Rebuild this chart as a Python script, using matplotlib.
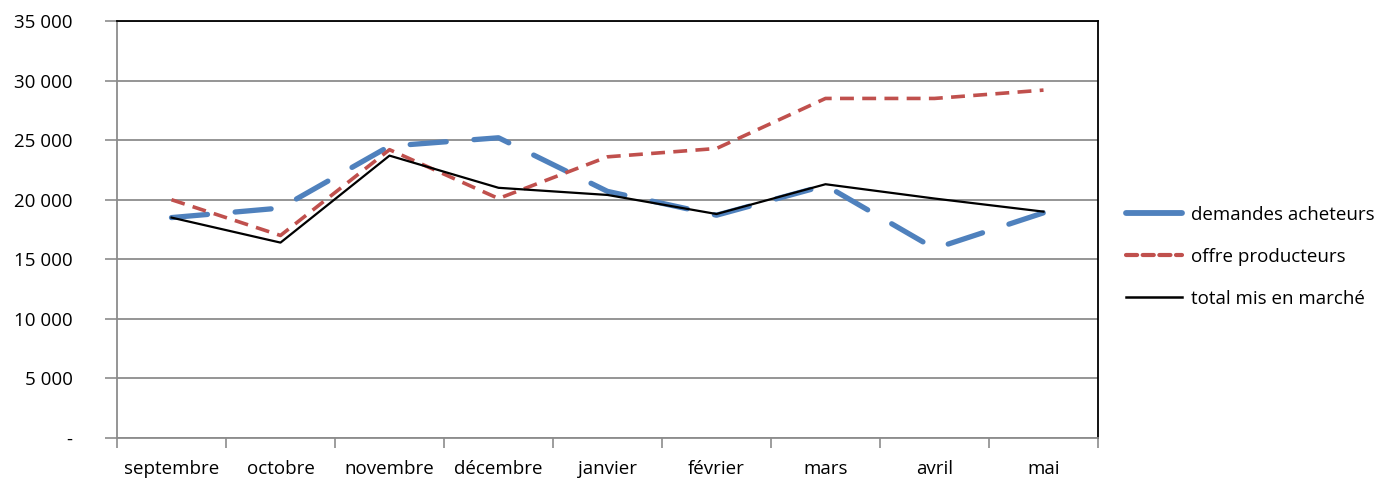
import matplotlib
matplotlib.use("Agg")
import matplotlib.pyplot as plt
from matplotlib.ticker import FixedLocator, FuncFormatter
from matplotlib.lines import Line2D

months = ["septembre", "octobre", "novembre", "décembre", "janvier",
          "février", "mars", "avril", "mai"]
demandes = [18500, 19300, 24500, 25200, 20700, 18700, 21200, 15900, 18900]
offre = [20000, 17000, 24200, 20100, 23600, 24300, 28500, 28500, 29200]
total = [18500, 16400, 23700, 21000, 20400, 18800, 21300, 20100, 19000]
yticks = [0, 5000, 10000, 15000, 20000, 25000, 30000, 35000]
labels = ['demandes acheteurs', 'offre producteurs', 'total mis en marché']

plt.rcParams['font.family'] = ['Open Sans', 'DejaVu Sans']
plt.rcParams['lines.scale_dashes'] = False

BLUE, RED = '#4F81BD', '#C0504D'
FS = 13.5

fig = plt.figure(figsize=(13.9, 4.79), dpi=100)
ax = fig.add_axes([117/1390, 1-438/479, (1098-117)/1390, (438-21)/479])

x = list(range(len(months)))
ax.plot(x, demandes, color=BLUE, lw=3.8, dashes=(26, 20),
        solid_capstyle='round', dash_capstyle='round', zorder=3)
ax.plot(x, offre, color=RED, lw=2.6, dashes=(10, 6),
        dash_capstyle='butt', zorder=4)
ax.plot(x, total, color='black', lw=1.6, zorder=5)

ax.set_xlim(-0.5, len(months) - 0.5)
ax.set_ylim(0, 35000)

ax.yaxis.set_major_locator(FixedLocator(yticks))
ax.yaxis.set_major_formatter(FuncFormatter(
    lambda v, p: '-' if v == 0 else f"{int(v):,}".replace(',', ' ')))
ax.grid(axis='y', color='#8c8c8c', lw=1.3)
ax.set_axisbelow(True)

ax.set_xticks([i - 0.5 for i in range(len(months) + 1)])
ax.set_xticklabels([])
ax.set_xticks(x, minor=True)
ax.set_xticklabels(months, minor=True)
ax.tick_params(axis='x', which='major', length=7, width=1.2, color='#8c8c8c', direction='out')
ax.tick_params(axis='x', which='minor', length=0, pad=16, labelsize=FS)
ax.tick_params(axis='y', length=9, width=1.2, color='#8c8c8c', pad=23, labelsize=FS)

for s in ['left', 'bottom']:
    ax.spines[s].set_color('#8c8c8c')
    ax.spines[s].set_linewidth(1.3)
for s in ['top', 'right']:
    ax.spines[s].set_color('black')
    ax.spines[s].set_linewidth(1.3)

handles = [
    Line2D([], [], color=BLUE, lw=4.2, solid_capstyle='round'),
    Line2D([], [], color=RED, lw=3.0, dashes=(8, 4), dash_capstyle='round'),
    Line2D([], [], color='black', lw=1.8),
]
fig.legend(handles, labels, loc='upper left', bbox_to_anchor=(1126/1390, 1-206/479),
           frameon=False, fontsize=FS, handlelength=3.0,
           handletextpad=0.45, labelspacing=1.27, borderaxespad=0, borderpad=0)

fig.savefig('out.png', dpi=100)
